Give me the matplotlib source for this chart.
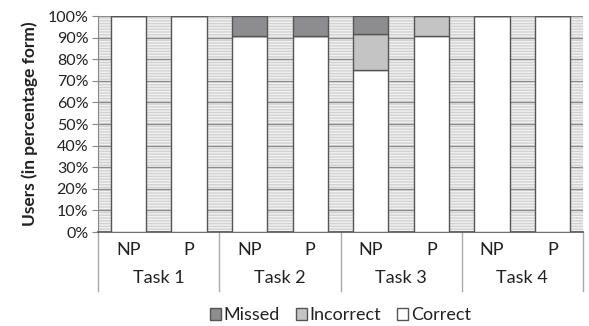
import numpy as np
import matplotlib
matplotlib.use('Agg')
import matplotlib.pyplot as plt
from matplotlib.patches import Rectangle
from matplotlib.lines import Line2D

plt.rcParams['font.family'] = ['Lato', 'DejaVu Sans']
plt.rcParams['hatch.linewidth'] = 1.0
plt.rcParams['hatch.color'] = '#d2d2d2'

tasks = ['Task 1', 'Task 2', 'Task 3', 'Task 4']
groups = ['NP', 'P']
correct = [100, 100, 90.9, 90.9, 75.0, 90.9, 100, 100]
incorrect = [0, 0, 0, 0, 16.7, 9.1, 0, 0]
missed = [0, 0, 9.1, 9.1, 8.3, 0, 0, 0]

fig = plt.figure(figsize=(5.89, 3.26), dpi=100)
ax = fig.add_axes([98/589, 94/326, 485/589, 216/326])

x = np.arange(len(correct))
correct = np.array(correct)
incorrect = np.array(incorrect)
missed = np.array(missed)
w = 0.58
edge = '#555555'
b1 = ax.bar(x, correct, w, color='white', edgecolor=edge, lw=1.0, zorder=3, label='Correct')
b2 = ax.bar(x, incorrect, w, bottom=correct, color='#c4c4c4', edgecolor=edge, lw=1.0, zorder=3, label='Incorrect')
b3 = ax.bar(x, missed, w, bottom=correct + incorrect, color='#8d8d8f', edgecolor=edge, lw=1.0, zorder=3, label='Missed')

# striped plot background
bg = Rectangle((0, 0), 1, 1, transform=ax.transAxes, facecolor='#f1f1f1',
               hatch='------', edgecolor='#d2d2d2', lw=0, zorder=0.1)
ax.add_patch(bg)

ax.set_xlim(-0.5, len(x) - 0.5)
ax.set_ylim(0, 100)
ax.set_yticks(np.arange(0, 101, 10))
ax.set_yticklabels([f'{v}%' for v in range(0, 101, 10)], fontsize=11.5, color='#222222')
ax.yaxis.grid(True, color='#8a8a8a', lw=0.9, zorder=0.5)
ax.set_axisbelow(True)
ax.tick_params(axis='y', length=4, color='#888888', pad=3)
ax.set_xticks([])
for s in ['top', 'right']:
    ax.spines[s].set_visible(False)
ax.spines['left'].set_color('#888888')
ax.spines['bottom'].set_color('#555555')
ax.spines['bottom'].set_linewidth(1.2)

ax.set_ylabel('Users (in percentage form)', fontsize=12.5, fontweight='bold', color='#222222', labelpad=7)

# two-level category labels
trans = ax.get_xaxis_transform()
for i in x:
    ax.text(i, -0.085, groups[i % 2], transform=trans, ha='center', va='center', fontsize=13, color='#222222')
for j, t in enumerate(tasks):
    ax.text(2 * j + 0.5, -0.215, t, transform=trans, ha='center', va='center', fontsize=13, color='#222222')
for j in range(len(tasks) + 1):
    ax.add_line(Line2D([2 * j - 0.5, 2 * j - 0.5], [0, -0.273], transform=trans,
                       color='#aaaaaa', lw=1.0, clip_on=False))

ax.legend(handles=[b3, b2, b1], loc='center', bbox_to_anchor=(0.5, -0.385), ncol=3,
          frameon=False, fontsize=13, handlelength=0.6, handleheight=0.6,
          handletextpad=0.15, columnspacing=0.9, labelcolor='#222222')

fig.savefig('out.png', dpi=100)
